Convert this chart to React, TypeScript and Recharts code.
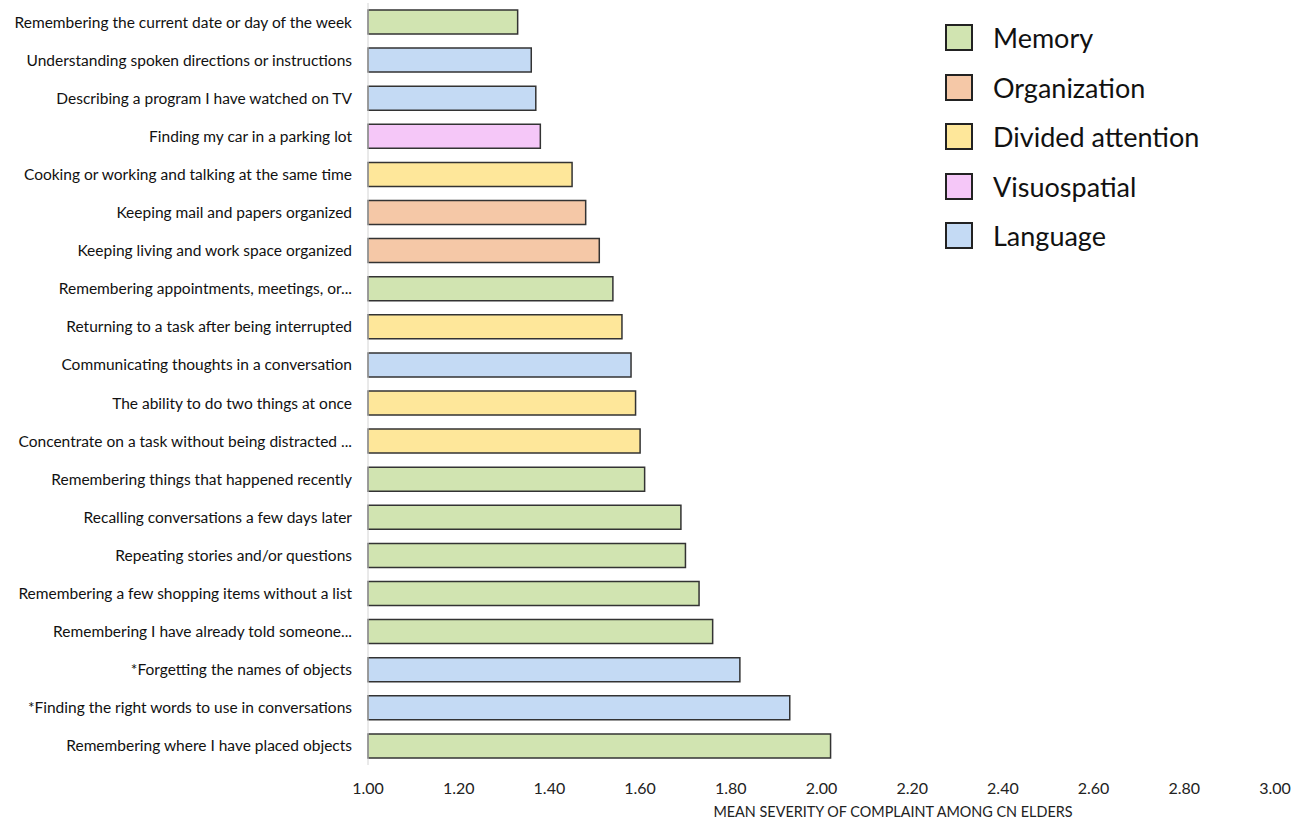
import { Bar, BarChart, Cell, XAxis, YAxis } from "recharts";

const complaints = [
  "Remembering the current date or day of the week",
  "Understanding spoken directions or instructions",
  "Describing a program I have watched on TV",
  "Finding my car in a parking lot",
  "Cooking or working and talking at the same time",
  "Keeping mail and papers organized",
  "Keeping living and work space organized",
  "Remembering appointments, meetings, or...",
  "Returning to a task after being interrupted",
  "Communicating thoughts in a conversation",
  "The ability to do two things at once",
  "Concentrate on a task without being distracted ...",
  "Remembering things that happened recently",
  "Recalling conversations a few days later",
  "Repeating stories and/or questions",
  "Remembering a few shopping items without a list",
  "Remembering I have already told someone...",
  "*Forgetting the names of objects",
  "*Finding the right words to use in conversations",
  "Remembering where I have placed objects"
];

const severity = [
  1.33, 1.36, 1.37, 1.38, 1.45, 1.48, 1.51, 1.54, 1.56, 1.58, 1.59, 1.6, 1.61,
  1.69, 1.7, 1.73, 1.76, 1.82, 1.93, 2.02
];

const domains = [
  "Memory",
  "Language",
  "Language",
  "Visuospatial",
  "Divided attention",
  "Organization",
  "Organization",
  "Memory",
  "Divided attention",
  "Language",
  "Divided attention",
  "Divided attention",
  "Memory",
  "Memory",
  "Memory",
  "Memory",
  "Memory",
  "Language",
  "Language",
  "Memory"
];

const legendOrder = [
  "Memory",
  "Organization",
  "Divided attention",
  "Visuospatial",
  "Language"
];

const xTicks = [1, 1.2, 1.4, 1.6, 1.8, 2, 2.2, 2.4, 2.6, 2.8, 3];

const domainColors: Record<string, string> = {
  Memory: "#d1e4b1",
  Organization: "#f5c8a7",
  "Divided attention": "#fee79a",
  Visuospatial: "#f5c7f8",
  Language: "#c4daf4"
};

const data = complaints.map((name, index) => ({
  name,
  value: severity[index],
  domain: domains[index]
}));

function DomainLegend() {
  return (
    <div
      style={{
        position: "absolute",
        left: 945,
        top: 13,
        fontFamily: "Lato, sans-serif",
        fontSize: 27,
        color: "#111"
      }}
    >
      {legendOrder.map((domain) => (
        <div
          key={domain}
          style={{ display: "flex", alignItems: "center", height: 49.5 }}
        >
          <span
            style={{
              display: "inline-block",
              width: 24,
              height: 23,
              background: domainColors[domain],
              border: "2px solid #222",
              marginRight: 20
            }}
          />
          {domain}
        </div>
      ))}
    </div>
  );
}

function AxisTitle() {
  return (
    <text
      x={893}
      y={817}
      textAnchor="middle"
      fontFamily="Lato, sans-serif"
      fontSize={14.4}
      fill="#222"
    >
      MEAN SEVERITY OF COMPLAINT AMONG CN ELDERS
    </text>
  );
}

export default function App() {
  return (
    <div
      style={{
        position: "absolute",
        left: 0,
        top: 0,
        width: 1304,
        height: 821,
        background: "#fff"
      }}
    >
      <BarChart
        width={1304}
        height={821}
        data={data}
        layout="vertical"
        margin={{ top: 3, right: 29, bottom: 0, left: 0 }}
      >
        <XAxis
          type="number"
          domain={[1, 3]}
          ticks={xTicks}
          tickFormatter={(v) => Number(v).toFixed(2)}
          axisLine={false}
          tickLine={false}
          tickMargin={12}
          height={56}
          tick={{ fontSize: 16, fill: "#222", fontFamily: "Lato, sans-serif" }}
          label={<AxisTitle />}
        />
        <YAxis
          type="category"
          dataKey="name"
          width={368}
          axisLine={{ stroke: "#d4d4d4" }}
          tickLine={false}
          tickMargin={10}
          interval={0}
          tick={{ fontSize: 15.5, fill: "#111", fontFamily: "Lato, sans-serif" }}
        />
        <Bar
          dataKey="value"
          barSize={24}
          stroke="#333"
          strokeWidth={1.5}
          isAnimationActive={false}
        >
          {data.map((entry) => (
            <Cell key={entry.name} fill={domainColors[entry.domain]} />
          ))}
        </Bar>
      </BarChart>
      <DomainLegend />
    </div>
  );
}
